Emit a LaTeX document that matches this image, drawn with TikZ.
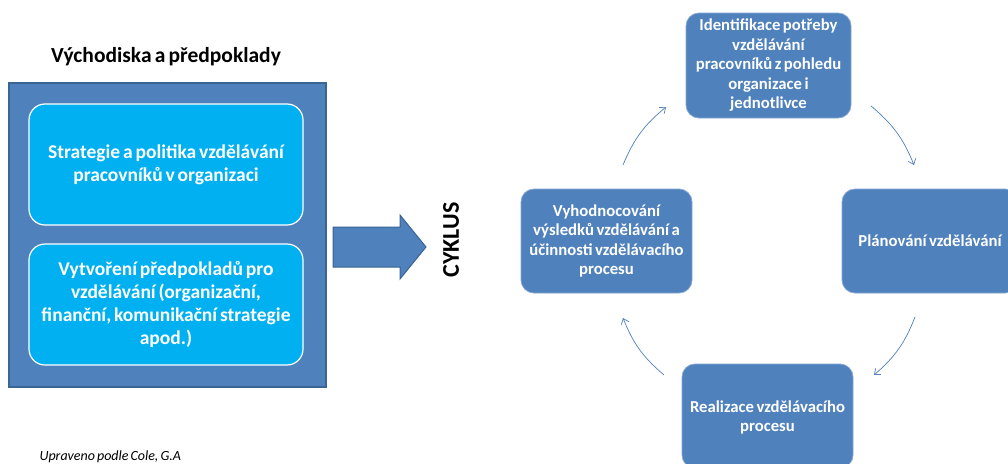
\documentclass[tikz,border=0pt]{standalone}
\usepackage{fontspec}
\setmainfont{Carlito}[WordSpace=0.65]
\usetikzlibrary{arrows.meta}
\definecolor{mblue}{HTML}{4F81BD}
\definecolor{dblue}{HTML}{3A6494}
\definecolor{cyan}{HTML}{00B0F0}
\tikzset{
  outerbox/.style={draw=dblue, line width=1.5pt, fill=mblue, minimum width=317pt, minimum height=304pt},
  innerbox/.style={draw=white, line width=1.2pt, fill=cyan, rounded corners=16pt, minimum width=274pt, minimum height=121pt,
     text=white, font=\fontsize{19.5}{23}\selectfont\bfseries, align=center},
  cyclebox/.style={draw=mblue!70!white, line width=0.8pt, fill=mblue, rounded corners=13pt, text=white,
     font=\fontsize{16.7}{19.5}\selectfont\bfseries, align=center},
  cyclearrow/.style={draw=mblue, line width=0.7pt, -{Straight Barb[length=5pt,width=8pt]}},
}
\begin{document}
\begin{tikzpicture}[x=1pt,y=-1pt]
\clip (0,0) rectangle (1008,463);
\fill[white] (0,0) rectangle (1008,463);
% title
\node[font=\fontsize{21.5}{24}\selectfont\bfseries] (title) at (166,57) {Východiska a předpoklady};
\node[outerbox] (outer) at (167.5,235) {};
\node[innerbox] (b1) at (166,164.5) {Strategie a politika vzdělávání\\pracovníků v organizaci};
\node[innerbox] (b2) at (166,304.5) {Vytvoření předpokladů pro\\vzdělávání (organizační,\\finanční, komunikační strategie\\apod.)};
% big arrow
\draw[dblue, line width=1pt, fill=mblue] (333,227)--(400,227)--(400,215)--(426,247)--(400,279)--(400,267)--(333,267)--cycle;
\node[rotate=90, font=\fontsize{24}{28}\selectfont\bfseries] (cyk) at (451,240) {CYKLUS};
% cycle boxes
\node[cyclebox, minimum width=165pt, minimum height=105pt] (top) at (768.5,65.5)
  {Identifikace potřeby\\vzdělávání\\pracovníků z pohledu\\organizace i\\jednotlivce};
\node[cyclebox, minimum width=171pt, minimum height=104pt] (left) at (606.5,241)
  {Vyhodnocování\\výsledků vzdělávání a\\účinnosti vzdělávacího\\procesu};
\node[cyclebox, minimum width=176pt, minimum height=104pt] (right) at (930,241)
  {Plánování vzdělávání};
\node[cyclebox, minimum width=171pt, minimum height=104pt] (bottom) at (767.5,416) {};
\node[cyclebox, draw=none, fill=none] (bottomtext) at (767.5,417.5) {Realizace vzdělávacího\\procesu};
% cycle arrows
\coordinate (a1s) at (623,165); \coordinate (a1e) at (666,107);
\coordinate (a2s) at (871,106); \coordinate (a2e) at (914,165);
\coordinate (a3s) at (915,317); \coordinate (a3e) at (874,375);
\coordinate (a4s) at (664,375); \coordinate (a4e) at (623,318);
\draw[cyclearrow] (a1s) to[bend left=14] (a1e);
\draw[cyclearrow] (a2s) to[bend left=14] (a2e);
\draw[cyclearrow] (a3s) to[bend left=14] (a3e);
\draw[cyclearrow] (a4s) to[bend left=14] (a4e);
% footnote
\node[font=\fontsize{14}{16}\selectfont\itshape, anchor=west] (foot) at (36,457) {Upraveno podle Cole, G.A};
\end{tikzpicture}
\end{document}
